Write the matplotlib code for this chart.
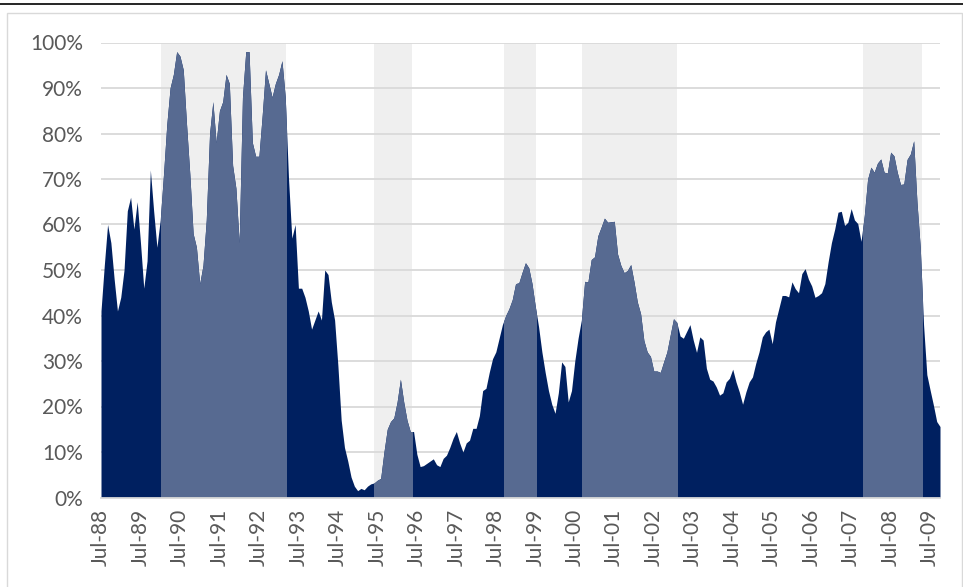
import numpy as np
import matplotlib
matplotlib.use("Agg")
from matplotlib import pyplot as plt
from matplotlib.patches import Rectangle
from matplotlib.lines import Line2D
from matplotlib.ticker import FuncFormatter

# monthly values in %, Jul-88 .. Oct-09 (one row per year, starting July)
vals = [
    41, 51, 60, 56, 48, 41, 44, 50, 63, 66, 59, 65,
    56, 46, 52, 72, 63, 55, 61, 71, 82, 90, 93, 98,
    97, 94, 82, 71, 58, 55, 47, 51, 61, 80, 87, 78,
    85, 87, 93, 91, 73, 68, 56, 88, 98, 98, 78, 75,
    75, 84, 94, 91, 88, 91, 93, 96, 88, 70, 57, 60,
    46, 46, 44, 41, 37, 39, 41, 39, 50, 49, 43, 39,
    29, 17, 11, 8, 4.5, 2.5, 1.5, 2, 1.7, 2.5, 3, 3.2,
    3.8, 4.2, 10, 15, 16.7, 17.5, 21, 26, 21, 17, 14.5, 14.5,
    9.5, 6.8, 7, 7.5, 8, 8.5, 7.2, 6.8, 8.6, 9.3, 11, 13,
    14.5, 12, 10, 12, 12.6, 15.2, 15.2, 18, 23.5, 24, 27.5, 30.5,
    32, 35, 38, 40, 41.5, 43.5, 47, 47.2, 49.5, 51.6, 50.5, 47,
    42, 37.5, 32, 27.5, 23.5, 20.5, 18.5, 23, 29.8, 28.8, 21, 23.5,
    30, 35, 39, 47.5, 47.4, 52.3, 52.9, 57.5, 59.4, 61.4, 60.5, 60.6,
    60.7, 53.5, 51, 49.4, 49.9, 51.2, 47.4, 43, 40.4, 34.5, 32, 31,
    27.8, 27.8, 27.5, 29.8, 32, 35.7, 39.3, 38.5, 35.5, 35, 36.5, 38,
    34.6, 31.9, 35.3, 34.6, 28.4, 26, 25.6, 24.3, 22.5, 23, 25.4, 26.2,
    28.2, 25.4, 23.2, 20.5, 23.2, 25.4, 26.5, 29.5, 32, 35.3, 36.4, 37,
    33.8, 38.6, 41.5, 44.4, 44.4, 44.1, 47.4, 45.9, 45, 49.2, 50.3, 48,
    46.5, 44, 44.4, 45, 47, 51.8, 56, 59, 62.7, 62.9, 59.8, 60.5,
    63.5, 61, 60.2, 56.3, 62, 70, 72.6, 71.5, 73.5, 74.4, 71.5, 71.3,
    75.9, 75.1, 71.5, 68.8, 68.9, 74.3, 75.5, 78.4, 64.9, 55, 38, 27,
    23.6, 20.3, 16.7, 15.6,
]

# shaded periods, in month index from Jul-88
band_start = [18.3, 83, 122.5, 146.3, 231.7]
band_end = [56.3, 94.6, 132.1, 175, 249.5]

tick_labels = ['Jul-88', 'Jul-89', 'Jul-90', 'Jul-91', 'Jul-92', 'Jul-93', 'Jul-94',
               'Jul-95', 'Jul-96', 'Jul-97', 'Jul-98', 'Jul-99', 'Jul-00', 'Jul-01',
               'Jul-02', 'Jul-03', 'Jul-04', 'Jul-05', 'Jul-06', 'Jul-07', 'Jul-08',
               'Jul-09']

dark = '#002060'
light = '#576a91'
band_c = '#efefef'
grid_c = '#d9d9d9'
txt_c = '#595959'

y = np.array(vals) / 100.0
x = np.arange(len(y))

fig = plt.figure(figsize=(9.63, 5.87), dpi=100)
ax = fig.add_axes([101/963, 1-497.5/587, 839/963, 455/587])

ax.fill_between(x, 0, y, color=dark, lw=0, zorder=2)
for s, e in zip(band_start, band_end):
    ax.axvspan(s, e, ymin=0, ymax=1, color=band_c, lw=0, zorder=0.2)
    clip = Rectangle((s, 0), e - s, 1.0, transform=ax.transData)
    poly = ax.fill_between(x, 0, y, color=light, lw=0, zorder=3)
    poly.set_clip_path(clip)

ax.set_xlim(0, len(y) - 1)
ax.set_ylim(0, 1.0)
ax.set_yticks(np.arange(0, 1.01, 0.1))
ax.yaxis.set_major_formatter(FuncFormatter(lambda v, p: '%d%%' % round(v * 100)))
ax.set_xticks(np.arange(0, len(y), 12))
ax.set_xticklabels(tick_labels, rotation=90)

ax.set_axisbelow(True)
ax.grid(axis='y', color=grid_c, lw=1.3)
ax.grid(axis='x', visible=False)
for sp in ['top', 'right', 'left']:
    ax.spines[sp].set_visible(False)
ax.spines['bottom'].set_color(grid_c)
ax.spines['bottom'].set_linewidth(1.3)
ax.spines['bottom'].set_zorder(4)
ax.tick_params(length=0, labelcolor=txt_c, labelsize=15)
ax.tick_params(axis='y', pad=13)
ax.tick_params(axis='x', pad=8)
for lb in ax.get_xticklabels() + ax.get_yticklabels():
    lb.set_fontfamily('Lato')

# frame of the chart area and the rule above it
fig.add_artist(Rectangle((7/963, -0.02), 955/963, 1.02 - 13/587, transform=fig.transFigure,
                         fill=False, ec=grid_c, lw=1))
fig.add_artist(Line2D([0, 1], [1 - 4/587, 1 - 4/587], transform=fig.transFigure,
                      color='black', lw=1.2))

plt.savefig('out.png', dpi=100)
